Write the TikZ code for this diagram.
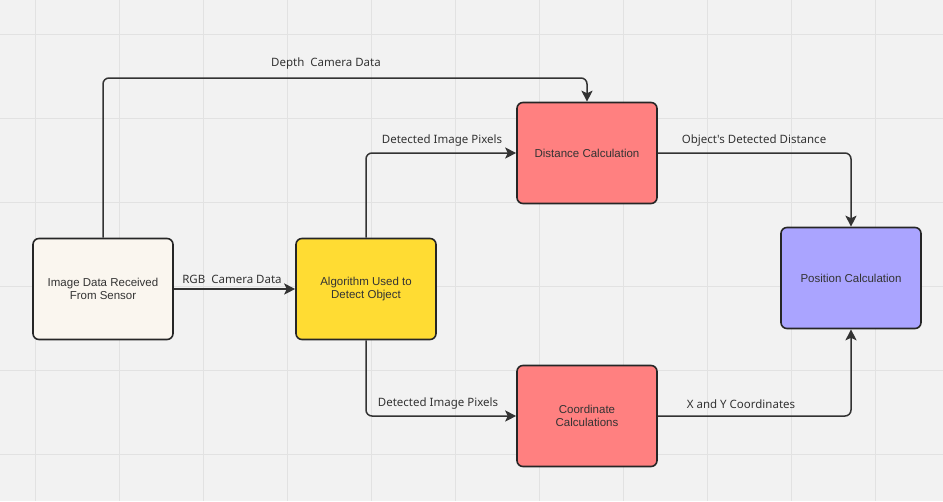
\documentclass[tikz,border=0pt]{standalone}
\usepackage{fontspec}
\setmainfont{Liberation Sans}
\newfontfamily\labelfont{Noto Sans}
\usetikzlibrary{arrows.meta}
\definecolor{bgGray}{HTML}{F2F2F2}
\definecolor{gridGray}{HTML}{E2E2E2}
\definecolor{lineGray}{HTML}{333333}
\definecolor{sensorFill}{HTML}{FAF6EF}
\definecolor{algoFill}{HTML}{FFDC33}
\definecolor{calcFill}{HTML}{FF8080}
\definecolor{posFill}{HTML}{AAA4FF}

\tikzset{
  box/.style={draw=black!85,line width=1.6pt,rounded corners=6pt,minimum width=140pt,
    minimum height=101pt,align=center,text=lineGray,font=\fontsize{11.5}{13}\selectfont},
  flow/.style={draw=lineGray,line width=1.5pt,rounded corners=6pt,
    -{Stealth[length=11pt,width=11pt,inset=2.5pt]}},
  lbl/.style={text=lineGray,inner sep=1pt,font=\labelfont\fontsize{11.5}{13}\selectfont}
}

\begin{document}
\begin{tikzpicture}[x=1pt,y=-1pt]
  % canvas and grid
  \fill[bgGray] (0,0) rectangle (943,501);
  \useasboundingbox (0,0) rectangle (943,501);
  \foreach \gx in {35,119,...,950}
    \draw[gridGray,line width=1pt] (\gx,0) -- (\gx,501);
  \foreach \gy in {34,118,...,501}
    \draw[gridGray,line width=1pt] (0,\gy) -- (943,\gy);

  % blocks
  \node[box,fill=sensorFill] (img) at (103,289) {Image Data Received\\From Sensor};
  \node[box,fill=algoFill] (alg) at (366,289) {Algorithm Used to\\Detect Object};
  \node[box,fill=calcFill] (dist) at (587,153) {Distance Calculation};
  \node[box,fill=calcFill] (coord) at (587,416) {Coordinate\\Calculations};
  \node[box,fill=posFill] (pos) at (851,278) {Position Calculation};
  \coordinate (depthTop) at (0,78);

  % connectors
  \draw[flow] (img.north) |- (dist.north |- depthTop) -- (dist.north);
  \draw[flow] (img.east) -- (alg.west);
  \draw[flow] (alg.north) |- (dist.west);
  \draw[flow] (alg.south) |- (coord.west);
  \draw[flow] (dist.east) -| (pos.north);
  \draw[flow] (coord.east) -| (pos.south);

  % labels
  \node[lbl] (lDepth) at (326,64) {Depth~~Camera Data};
  \node[lbl] (lRgb) at (232,279) {RGB~~Camera Data};
  \node[lbl] (lPixUp) at (442,141) {Detected Image Pixels};
  \node[lbl] (lPixDown) at (438,404) {Detected Image Pixels};
  \node[lbl] (lDist) at (754,141) {Object's Detected Distance};
  \node[lbl] (lXY) at (741,404) {X and Y Coordinates};
\end{tikzpicture}
\end{document}
